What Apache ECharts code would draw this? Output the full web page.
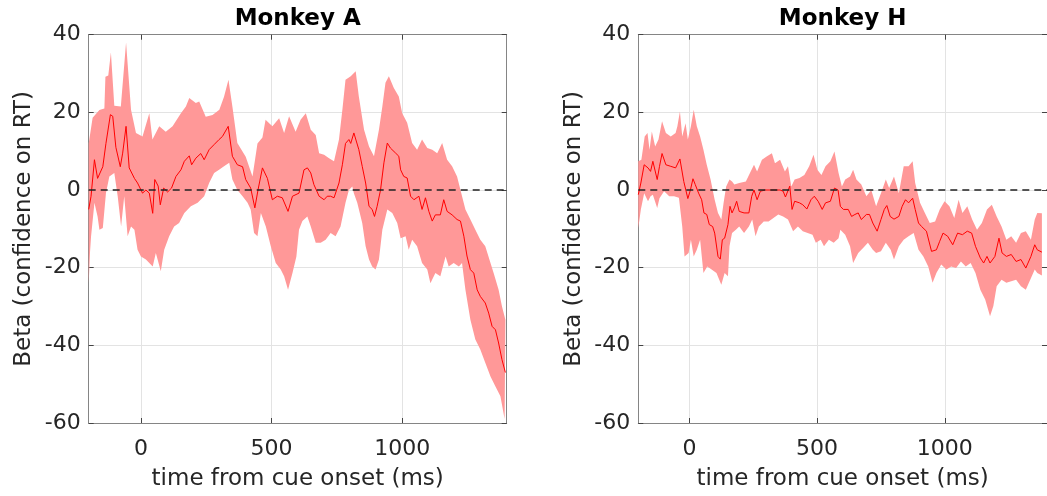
<!DOCTYPE html>
<html>
<head>
<meta charset="utf-8">
<script src="https://cdn.jsdelivr.net/npm/echarts@6/dist/echarts.min.js"></script>
<style>
  html, body { margin: 0; padding: 0; background: #fff; }
  #chart { width: 1047px; height: 496px; }
</style>
</head>
<body>
<div id="chart"></div>
<script>
// time (ms) vs beta
var titles = ['Monkey A', 'Monkey H'];
var xTicks = [0, 500, 1000];
var yTicks = [-60, -40, -20, 0, 20, 40];

var meanA = [[-200,-5],[-191,-1.6],[-178,7.8],[-166,3],[-146,6],[-134,12],[-117,19.4],[-108,19],[-96,11],[-79,6],[-70,9.5],[-57,16.4],[-45,5.7],[-25,3],[-13,1.8],[6,-0.8],[19,0],[32,-0.8],[45,-6],[53,2.7],[66,1],[74,-3.8],[87,0.5],[102,-0.5],[117,0.5],[134,3.5],[153,5.2],[166,7.4],[185,8.8],[194,6.5],[210,8.2],[229,9.4],[242,7.8],[261,10.4],[280,11.7],[299,13],[312,13.8],[334,16.4],[350,8.7],[369,6.5],[389,6],[401,2.7],[420,0.5],[436,-4.6],[448,0],[465,5.7],[484,3],[503,-2.5],[522,-1.6],[541,-2],[563,-5.5],[580,-1.6],[605,-0.8],[624,5.2],[637,5.7],[650,4.4],[662,1.4],[682,-1.6],[701,-2.5],[713,-1.6],[726,-1.6],[739,-2],[758,1.8],[771,6.5],[783,12],[796,13],[803,12],[815,14.7],[822,15.1],[834,10.4],[847,6.1],[860,1.8],[873,-4.2],[885,-5],[894,-6.8],[904,-4.2],[917,0],[930,7],[943,12.1],[955,10.8],[975,9.5],[987,8.7],[994,5.2],[1006,3.5],[1019,3.1],[1032,-1.6],[1045,-2.5],[1064,-1.6],[1076,-5],[1089,-2],[1102,-5.5],[1115,-8],[1127,-6.4],[1146,-6.4],[1159,-2.5],[1172,-5.5],[1191,-6.4],[1210,-7.6],[1223,-8],[1236,-11.9],[1248,-17],[1261,-20.5],[1274,-21.4],[1287,-25.7],[1299,-27.4],[1318,-29.1],[1331,-31.7],[1344,-35.1],[1357,-36],[1369,-39.4],[1382,-43.7],[1395,-47]];

var upperA = [[-200,12],[-185,18.6],[-159,20.6],[-140,21],[-136,29.2],[-125,29.5],[-115,35.4],[-102,21.7],[-77,21.5],[-57,38],[-38,20.7],[-19,14.7],[6,13.8],[32,19.8],[44,13],[70,16.4],[95,15],[121,16.4],[153,19.8],[172,21.5],[185,23.7],[210,22.4],[223,22.8],[248,18.9],[274,19.3],[300,20.7],[318,24],[335,28.4],[350,21.5],[369,12.1],[401,8.6],[427,3.5],[446,12],[465,13.5],[477,18.1],[503,16.4],[529,18.5],[548,14.7],[567,19],[592,15],[611,18.1],[631,19.8],[650,15.5],[669,14.2],[682,9.5],[701,9.1],[720,8.2],[739,7.4],[758,13],[771,20.7],[783,28.4],[803,29.3],[822,30.6],[834,24.1],[854,15.5],[873,11.2],[892,8.7],[911,15.5],[924,21.5],[936,27.6],[949,29.3],[968,26.3],[987,24.1],[1000,19.8],[1019,17.3],[1038,12.1],[1057,10.4],[1076,13],[1096,10.8],[1115,10.4],[1134,9.5],[1153,12.1],[1172,7.8],[1191,6.1],[1210,3.5],[1223,0],[1242,-5],[1261,-7.6],[1280,-10.2],[1299,-12.8],[1318,-14.5],[1338,-18.8],[1350,-21.4],[1369,-25.7],[1382,-30],[1395,-33.4]];

var lowerA = [[-200,-24],[-195,-16],[-191,-12],[-178,-3.3],[-166,-6.8],[-159,-10.2],[-146,-9.8],[-134,-0.8],[-121,3.5],[-102,4.4],[-89,-1.6],[-76,-9.4],[-64,-1.6],[-51,-11.9],[-38,-9.4],[-25,-10.2],[-13,-15.4],[0,-17.1],[19,-17.9],[32,-18.8],[45,-19.7],[57,-16.2],[76,-20.9],[89,-15.4],[108,-11.9],[127,-9.4],[146,-8.5],[166,-5.9],[191,-4.2],[217,-3.3],[242,-1.6],[261,1.8],[280,4.4],[299,5.2],[318,6.1],[338,7],[350,2.7],[369,0],[389,-1.6],[408,-3.3],[420,-5],[433,-11.1],[446,-11.9],[459,-5.9],[478,-9.4],[497,-14.5],[516,-18.8],[535,-20.5],[548,-22.2],[563,-25.7],[580,-21.4],[595,-17.1],[605,-10.2],[618,-8],[637,-6.8],[650,-9.4],[669,-13.6],[688,-13.6],[707,-12.8],[726,-11.1],[745,-11.9],[764,-9.4],[783,-3.3],[796,0],[809,0.9],[815,-0.8],[828,-3.3],[847,-8.5],[860,-14.5],[873,-17.9],[885,-19.7],[898,-20.5],[911,-17.9],[924,-10.2],[943,-5],[962,-5.9],[981,-8.5],[994,-12.4],[1013,-11.9],[1025,-15.4],[1038,-12.8],[1057,-14.5],[1076,-18.8],[1096,-20.5],[1108,-24],[1127,-21.4],[1146,-22.2],[1166,-17.1],[1178,-19.7],[1197,-18.8],[1217,-19.7],[1229,-18.8],[1242,-25.7],[1261,-33.4],[1280,-38.5],[1299,-41.1],[1318,-44.5],[1338,-48],[1357,-50.6],[1376,-53.1],[1392,-59]];

var meanH = [[-200,-1.2],[-190,1.8],[-177,6.5],[-162,5.7],[-152,4.8],[-143,7.4],[-126,2.7],[-117,6.1],[-107,9.4],[-92,6.5],[-73,6.1],[-54,5.7],[-47,5.2],[-37,8],[-22,2.2],[-6,-2.2],[4,0],[14,2.9],[23,1.4],[36,-0.8],[48,-2.5],[57,-5.9],[68,-6.3],[78,-8.9],[91,-9.4],[99,-11.1],[112,-17.1],[121,-17.8],[129,-12.8],[138,-12.4],[151,-8.9],[159,-4.2],[167,-5.9],[176,-4.6],[185,-2.9],[195,-5.5],[214,-5.9],[233,-5.9],[244,-1.6],[253,0],[265,-2.5],[278,-0.3],[297,0],[316,0],[335,0],[355,0],[367,-0.3],[376,-1.8],[393,1],[402,-5],[412,-2.9],[431,-3.3],[444,-3.8],[460,-4.9],[476,-2.5],[489,-1.6],[504,-2.9],[520,-5],[533,-3.3],[552,-2.9],[568,0.5],[582,0],[591,-4.2],[603,-5],[622,-5],[635,-6.8],[648,-6.3],[661,-5.9],[673,-7.6],[693,-6.3],[705,-6.3],[718,-8.5],[735,-10.6],[750,-7.6],[763,-5],[773,-4],[786,-6.8],[801,-7.5],[820,-6.8],[833,-4.2],[846,-2.5],[858,-3.3],[874,-2.1],[884,-5],[897,-8.5],[909,-9.4],[928,-10.6],[948,-15.8],[967,-15.4],[980,-13.2],[993,-11.1],[1011,-11.9],[1031,-14.1],[1050,-11.1],[1069,-11.5],[1088,-10.6],[1105,-11.1],[1120,-14.5],[1139,-17.5],[1152,-18.8],[1165,-17.1],[1177,-18.8],[1196,-17.1],[1212,-12.4],[1224,-16.2],[1241,-17.1],[1260,-16.6],[1279,-18.4],[1298,-17.9],[1317,-20.1],[1337,-17.1],[1352,-14.1],[1362,-15.4],[1380,-16]];

var upperH = [[-200,7.4],[-188,7.8],[-175,13.8],[-164,14.7],[-156,10.4],[-147,15.1],[-134,11.2],[-121,13],[-107,17.7],[-92,14.7],[-73,13.8],[-54,14.7],[-47,16.4],[-37,20.2],[-28,13.8],[-15,17.2],[-6,13],[6,16.4],[17,20.7],[29,16.4],[42,13.8],[55,10.4],[68,6.5],[83,2.7],[99,-2.5],[112,-5.9],[125,-7.6],[134,-3.3],[144,0.9],[157,2.7],[167,2.2],[176,1.4],[195,1.8],[221,2.2],[240,4.8],[253,6.5],[265,4.8],[284,7.8],[304,8.7],[323,9.5],[335,6.9],[355,7.8],[374,4.8],[386,6.1],[399,0.9],[412,2.7],[431,3.1],[450,3.9],[469,6.1],[486,9.1],[501,5.2],[517,3.9],[533,6.1],[552,7.4],[568,9.9],[584,4.4],[597,0.9],[610,2.7],[629,3.5],[641,5.2],[654,2.7],[673,1.4],[693,-1.6],[712,0],[731,-4.2],[750,-0.8],[769,2.7],[782,0.5],[801,3.5],[820,-0.8],[839,6.1],[858,6.1],[874,7.4],[884,1.8],[903,-3.3],[922,-5.9],[941,-8.5],[962,-8.1],[980,-5],[999,-2.9],[1018,-4.2],[1037,-7.2],[1054,-2.5],[1069,-5.9],[1088,-4.2],[1107,-7.6],[1126,-10.2],[1145,-8.5],[1165,-5],[1184,-3.8],[1203,-6.8],[1222,-9.4],[1241,-12.8],[1260,-11.9],[1279,-13.6],[1298,-11.1],[1317,-10.6],[1337,-12.8],[1352,-7.6],[1362,-5.9],[1380,-6]];

var lowerH = [[-200,-9.8],[-190,-5],[-177,-0.8],[-162,-2.9],[-152,-1.6],[-143,-1.2],[-126,-4.6],[-117,-2.1],[-99,-0.3],[-79,-1.6],[-60,-1.6],[-41,-2],[-28,-9.4],[-19,-17.1],[-3,-16.2],[6,-12.8],[17,-17.1],[29,-15.4],[42,-12.8],[55,-21.4],[70,-19.7],[87,-20.5],[106,-21.4],[125,-24.4],[138,-21.4],[151,-22.2],[157,-14.5],[167,-11.1],[182,-10.2],[195,-9.4],[214,-11.1],[233,-9.4],[246,-7.6],[259,-11.9],[272,-9.4],[291,-8.1],[310,-8.1],[329,-7.2],[348,-6.3],[367,-6.8],[386,-7.6],[406,-10.6],[425,-9.4],[444,-10.6],[463,-11.1],[482,-11.5],[495,-13.6],[514,-12.8],[527,-14.5],[546,-12.8],[565,-13.6],[584,-12.4],[591,-10.2],[610,-11.5],[629,-14.5],[641,-18.8],[661,-16.2],[680,-14.9],[699,-13.6],[718,-15.4],[731,-16.2],[750,-15.8],[769,-13.6],[788,-15.4],[801,-17.9],[820,-14.5],[839,-12.8],[858,-11.9],[878,-11.1],[897,-15.4],[916,-17.1],[935,-19.7],[952,-23.9],[967,-21.4],[986,-19.2],[1006,-20.5],[1025,-19.7],[1044,-20.1],[1063,-18.4],[1082,-19.7],[1101,-18.8],[1120,-21.4],[1139,-25.7],[1158,-28.2],[1177,-32.5],[1190,-29.9],[1203,-24.8],[1222,-23.1],[1241,-23.9],[1260,-23.5],[1279,-23.1],[1298,-24.8],[1317,-25.7],[1337,-22.7],[1352,-20.5],[1362,-21.4],[1380,-22]];

var panels = [
  {mean: meanA, upper: upperA, lower: lowerA},
  {mean: meanH, upper: upperH, lower: lowerH}
];

var font = 'DejaVu Sans';
var txt = '#262626';
var frame = '#858585';

var chart = echarts.init(document.getElementById('chart'), null, {renderer: 'canvas'});

var grids = [], xAxes = [], yAxes = [], series = [];

function plain(v) { return String(v); }

panels.forEach(function (p, i) {
  grids.push({left: i === 0 ? 88.7 : 638.3, top: 34.7, width: 418, height: 388.3, containLabel: false});

  // bottom x axis
  xAxes.push({
    type: 'value', gridIndex: i, min: -200, max: 1400, position: 'bottom',
    name: 'time from cue onset (ms)', nameLocation: 'middle', nameGap: 45,
    nameTextStyle: {fontFamily: font, fontSize: 23, color: txt},
    axisLine: {show: true, onZero: false, lineStyle: {color: frame, width: 1}},
    axisTick: {show: true, inside: true, length: 5, customValues: xTicks, lineStyle: {color: '#444'}},
    axisLabel: {customValues: xTicks, formatter: plain, fontFamily: font, fontSize: 22, color: txt, margin: 15},
    splitLine: {show: true, lineStyle: {color: '#e3e3e3', width: 1}}
  });
  // top x axis (box + title)
  xAxes.push({
    type: 'value', gridIndex: i, min: -200, max: 1400, position: 'top',
    name: titles[i], nameLocation: 'middle', nameGap: 4,
    nameTextStyle: {fontFamily: font, fontSize: 23, fontWeight: 'bold', color: '#000'},
    axisLine: {show: true, onZero: false, lineStyle: {color: frame, width: 1}},
    axisTick: {show: true, inside: true, length: 5, customValues: xTicks, lineStyle: {color: '#444'}},
    axisLabel: {show: false},
    splitLine: {show: false}
  });
  // left y axis
  yAxes.push({
    type: 'value', gridIndex: i, min: -60, max: 40, interval: 20, position: 'left',
    name: 'Beta (confidence on RT)', nameLocation: 'middle', nameGap: 53,
    nameTextStyle: {fontFamily: font, fontSize: 23, color: txt},
    axisLine: {show: true, onZero: false, lineStyle: {color: frame, width: 1}},
    axisTick: {show: true, inside: true, length: 5, lineStyle: {color: '#444'}},
    axisLabel: {fontFamily: font, fontSize: 22, color: txt, margin: 8},
    splitLine: {show: true, lineStyle: {color: '#e3e3e3', width: 1}}
  });
  // right y axis (box)
  yAxes.push({
    type: 'value', gridIndex: i, min: -60, max: 40, interval: 20, position: 'right',
    axisLine: {show: true, onZero: false, lineStyle: {color: frame, width: 1}},
    axisTick: {show: true, inside: true, length: 5, lineStyle: {color: '#444'}},
    axisLabel: {show: false},
    splitLine: {show: false}
  });

  // confidence band as polygon: upper forward, lower backward
  series.push({
    type: 'custom', xAxisIndex: i * 2, yAxisIndex: i * 2, silent: true, z: 1,
    data: [[0, 0]],
    renderItem: (function (up, lo) {
      return function (params, api) {
        var pts = [];
        for (var k = 0; k < up.length; k++) pts.push(api.coord(up[k]));
        for (var m = lo.length - 1; m >= 0; m--) pts.push(api.coord(lo[m]));
        return {type: 'polygon', shape: {points: pts}, style: {fill: '#ff9898'}};
      };
    })(p.upper, p.lower)
  });

  series.push({
    type: 'line', xAxisIndex: i * 2, yAxisIndex: i * 2, z: 3,
    data: p.mean, showSymbol: false, symbol: 'none', animation: false,
    lineStyle: {color: '#ff0000', width: 1},
    markLine: {
      silent: true, symbol: ['none', 'none'], animation: false,
      label: {show: false},
      lineStyle: {type: [7, 5], color: '#222', width: 1.5},
      data: [{yAxis: 0}]
    }
  });
});

option = {
  animation: false,
  textStyle: {fontFamily: font},
  grid: grids,
  xAxis: xAxes,
  yAxis: yAxes,
  series: series
};

chart.setOption(option);
</script>
</body>
</html>
